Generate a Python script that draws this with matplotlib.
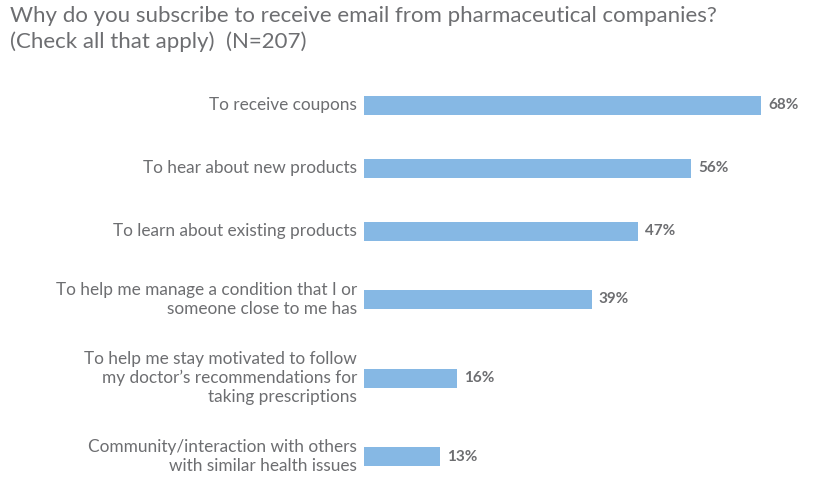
import matplotlib
matplotlib.use("Agg")
import matplotlib.pyplot as plt

# data
categories = [
    "To receive coupons",
    "To hear about new products",
    "To learn about existing products",
    "To help me manage a condition that I or\nsomeone close to me has",
    "To help me stay motivated to follow\nmy doctor\u2019s recommendations for\ntaking prescriptions",
    "Community/interaction with others\nwith similar health issues",
]
values = [68, 56, 47, 39, 16, 13]
title = "Why do you subscribe to receive email from pharmaceutical companies?\n(Check all that apply)  (N=207)"

bar_color = "#86b8e4"
text_color = "#6d6e71"
plt.rcParams['font.family'] = ['Lato', 'DejaVu Sans']

W, H = 822, 483
fig = plt.figure(figsize=(W / 100, H / 100), dpi=100)

# row slots grow with number of label lines
lines = [c.count("\n") + 1 for c in categories]
slot = [52.5 + 10.5 * n for n in lines]
pos = []
y = 105
for i in range(len(categories)):
    if i > 0:
        y += (slot[i - 1] + slot[i]) / 2
    pos.append(y)

# axes in pixel units: x in %, y in px from top
left_px, right_px = 364, 810
ax = fig.add_axes([left_px / W, 0, (right_px - left_px) / W, 1])
px_per_pct = 397 / 68
ax.set_xlim(0, (right_px - left_px) / px_per_pct)
ax.set_ylim(H, 0)
ax.barh(pos, values, height=19, color=bar_color)
ax.axis("off")

for p, v, c in zip(pos, values, categories):
    ax.text(v + 7 / px_per_pct, p, f"{v}%", va="center", ha="left",
            fontsize=11, fontweight="bold", color=text_color)
    ax.text(-7 / px_per_pct, p, c, va="center", ha="right", fontsize=12.4,
            color=text_color, linespacing=1.25, multialignment="right")

fig.text(10 / W, 1 - 6 / H, title, va="top", ha="left", fontsize=16,
         color=text_color, linespacing=1.35)

fig.savefig("out.png", dpi=100)
